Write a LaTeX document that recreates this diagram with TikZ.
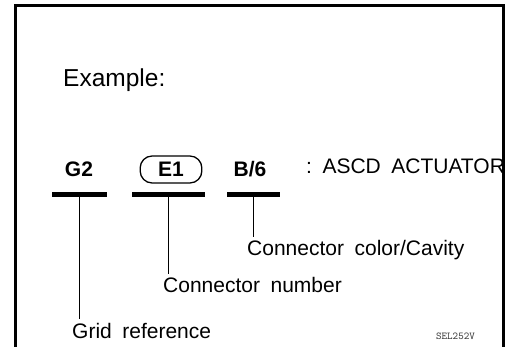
\documentclass[tikz,border=0pt]{standalone}
\usepackage{fontspec}
\setmainfont{Liberation Sans}[WordSpace=1.8]
\usetikzlibrary{positioning}
\definecolor{ink}{RGB}{0,0,0}
\definecolor{stampgray}{RGB}{50,50,50}
\tikzset{
  lbl/.style={font=\fontsize{21}{24}\selectfont, inner sep=0pt, anchor=base west},
  code/.style={font=\bfseries\fontsize{21}{24}\selectfont, inner sep=0pt, anchor=base},
  plain/.style={},
  oval/.style={draw, line width=1.3pt, rounded corners=12pt, inner xsep=18pt,
    text height=15pt, text depth=0pt, inner ysep=6pt},
  bar/.style={fill=ink, minimum height=5pt, inner sep=0pt},
}

\begin{document}
\begin{tikzpicture}[x=1pt,y=-1pt]
  \useasboundingbox (0,0) rectangle (506,347);
  % frame, open at the bottom
  \draw[line width=3pt] (15,347) -- (15,5.5) -- (503,5.5) -- (503,347);
  \node[lbl, font=\fontsize{24.5}{28}\selectfont] (title) at (63,87) {Example:};
  % codes with their bars
  \foreach \nm/\tx/\x/\w/\txt/\sty in {g2/79/79.5/55/G2/plain, e1/171/168/73/E1/oval,
      b6/250/253/53/{B/6}/plain}{
    \node[code,\sty] (\nm) at (\tx,177) {\txt};
    \node[bar, minimum width=\w] (\nm bar) at (\x,195) {};
  }
  \node[lbl] (actuator) at (306,174) {:\ ASCD ACTUATOR};
  % what each code means
  \node[lbl] (cavity) at (247,256) {Connector color/Cavity};
  \node[lbl] (number) at (163,293) {Connector number};
  \node[lbl] (grid) at (72,338) {Grid reference};
  \foreach \nm/\lab in {b6/cavity, e1/number, g2/grid}
    \draw[line width=0.8pt, shorten >=4pt] (\nm bar.center) -- (\nm bar.center |- \lab.north);
  \node[font=\ttfamily\fontsize{10.5}{12}\selectfont, inner sep=0pt, anchor=base west,
    text=stampgray] (stamp) at (436,339) {SEL252V};
\end{tikzpicture}
\end{document}
